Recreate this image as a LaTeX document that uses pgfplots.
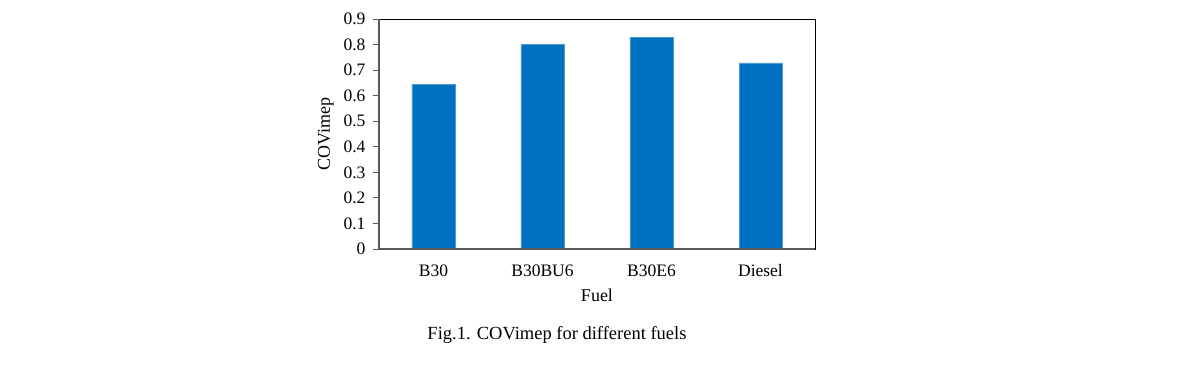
\documentclass[border=0pt]{standalone}
\usepackage{pgfplots}
\pgfplotsset{compat=1.18}
\usepackage{fontspec}
\setmainfont{Liberation Serif}
\definecolor{barblue}{HTML}{0070C0}
\definecolor{axgray}{HTML}{595959}
\begin{document}
\begin{tikzpicture}
\begin{axis}[
  at={(0pt,0pt)}, anchor=south west,
  width=436pt, height=230pt, scale only axis,
  xmin=-0.5, xmax=3.5, ymin=0, ymax=0.9,
  xtick=data, xticklabels={B30,B30BU6,B30E6,Diesel},
  ytick={0,0.1,...,0.9},
  yticklabels={0,0.1,0.2,0.3,0.4,0.5,0.6,0.7,0.8,0.9},
  major x tick style={draw=none},
  y tick style={axgray, line width=0.8pt},
  tick align=outside, major tick length=6pt,
  ytick pos=left,
  axis line style={black, line width=0.8pt},
  tick label style={font=\fontsize{17.5}{18}\selectfont},
  yticklabel style={xshift=-4pt},
  xticklabel style={yshift=-6pt},
  xlabel={Fuel}, ylabel={COVimep},
  label style={font=\fontsize{18}{20}\selectfont},
  xlabel style={yshift=-5pt},
  ylabel style={yshift=3pt},
  /pgf/number format/assume math mode=true,
  ybar, bar width=43pt,
  clip=false,
]
\addplot[fill=barblue, draw=barblue!70!white, line width=0.4pt] coordinates {(0,0.645) (1,0.800) (2,0.828) (3,0.728)};
\draw[axgray, line width=1.4pt] (axis cs:-0.5,0.9) -- (axis cs:-0.5,0) -- (axis cs:3.5,0);
\end{axis}
\node[font=\fontsize{18.5}{20}\selectfont] at (178pt,-86pt) {Fig.1. COVimep for different fuels};
\useasboundingbox (-379pt,-126pt) rectangle (821pt,249pt);
\end{tikzpicture}
\end{document}
